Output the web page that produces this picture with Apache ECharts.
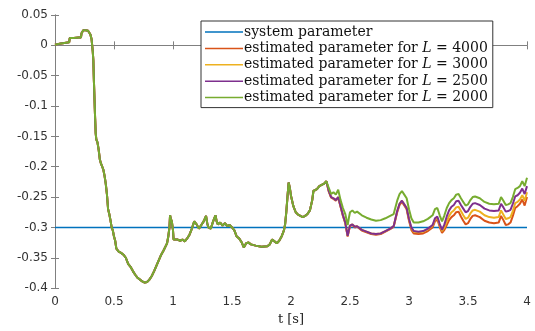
<!DOCTYPE html>
<html>
<head>
<meta charset="utf-8">
<script src="https://cdn.jsdelivr.net/npm/echarts@6/dist/echarts.min.js"></script>
<style>
  html, body { margin: 0; padding: 0; background: #fff; }
  #chart { width: 535px; height: 331px; }
</style>
</head>
<body>
<div id="chart"></div>
<script>
// time axis ticks
var xTicks = [0, 0.5, 1, 1.5, 2, 2.5, 3, 3.5, 4];
var yTicks = [0.05, 0, -0.05, -0.1, -0.15, -0.2, -0.25, -0.3, -0.35, -0.4];

// system parameter (constant)
var sysT = [0, 4];
var sysV = [-0.3, -0.3];

// shared part of all estimates (t = 0 .. 2.3)
var tEarly = [0, 0.02, 0.05, 0.08, 0.12, 0.125, 0.16, 0.2, 0.22, 0.225, 0.24, 0.26, 0.28, 0.29, 0.3,
  0.31, 0.32, 0.325, 0.33, 0.335, 0.34, 0.345, 0.35, 0.36, 0.37, 0.38, 0.39, 0.4, 0.41, 0.42,
  0.43, 0.44, 0.45, 0.46, 0.47, 0.48, 0.49, 0.5, 0.51, 0.52, 0.54, 0.56, 0.58, 0.6, 0.62,
  0.64, 0.66, 0.68, 0.7, 0.72, 0.74, 0.76, 0.78, 0.8, 0.82, 0.84, 0.86, 0.88, 0.9, 0.92,
  0.94, 0.95, 0.96, 0.97, 0.975, 0.98, 0.99, 0.995, 1.0, 1.005, 1.02, 1.04, 1.06, 1.08, 1.1,
  1.12, 1.14, 1.16, 1.18, 1.19, 1.2, 1.22, 1.24, 1.26, 1.28, 1.29, 1.3, 1.32, 1.34, 1.36,
  1.37, 1.38, 1.4, 1.42, 1.44, 1.46, 1.48, 1.5, 1.52, 1.54, 1.56, 1.58, 1.6, 1.62, 1.64,
  1.66, 1.7, 1.75, 1.8, 1.82, 1.84, 1.86, 1.88, 1.9, 1.92, 1.94, 1.95, 1.96, 1.97, 1.98,
  1.99, 2.0, 2.02, 2.04, 2.06, 2.08, 2.1, 2.12, 2.14, 2.16, 2.18, 2.19, 2.2, 2.22, 2.24,
  2.26, 2.28, 2.3];
var vEarly = [0.001, 0.002, 0.003, 0.004, 0.005, 0.012, 0.012, 0.013, 0.013, 0.02, 0.025, 0.025, 0.024, 0.022, 0.018,
  0.01, -0.01, -0.025, -0.06, -0.09, -0.12, -0.145, -0.155, -0.16, -0.172, -0.188, -0.195, -0.2, -0.205, -0.215,
  -0.228, -0.245, -0.27, -0.278, -0.288, -0.3, -0.305, -0.315, -0.322, -0.335, -0.34, -0.342, -0.345, -0.35, -0.36,
  -0.365, -0.372, -0.378, -0.383, -0.386, -0.389, -0.391, -0.39, -0.386, -0.38, -0.372, -0.363, -0.354, -0.345, -0.338,
  -0.33, -0.326, -0.315, -0.3, -0.28, -0.285, -0.29, -0.288, -0.305, -0.32, -0.318, -0.32, -0.322, -0.32, -0.323,
  -0.318, -0.312, -0.302, -0.29, -0.288, -0.295, -0.302, -0.296, -0.29, -0.281, -0.293, -0.3, -0.302, -0.29, -0.28,
  -0.29, -0.295, -0.292, -0.297, -0.293, -0.298, -0.296, -0.3, -0.305, -0.315, -0.318, -0.324, -0.333, -0.326, -0.325,
  -0.328, -0.33, -0.332, -0.331, -0.328, -0.32, -0.323, -0.326, -0.322, -0.315, -0.305, -0.295, -0.275, -0.25, -0.226,
  -0.235, -0.248, -0.265, -0.275, -0.279, -0.281, -0.283, -0.281, -0.278, -0.272, -0.255, -0.24, -0.238, -0.237, -0.232,
  -0.23, -0.228, -0.224];

// estimates after they split (t = 2.32 .. 4)
var tLate = [2.32, 2.34, 2.36, 2.38, 2.4, 2.42, 2.44, 2.46, 2.48, 2.49, 2.5, 2.52, 2.54, 2.56, 2.6,
  2.64, 2.68, 2.72, 2.76, 2.8, 2.84, 2.87, 2.9, 2.92, 2.94, 2.96, 2.98, 3.0, 3.02, 3.04,
  3.08, 3.12, 3.16, 3.2, 3.22, 3.24, 3.26, 3.28, 3.3, 3.32, 3.34, 3.36, 3.38, 3.4, 3.42,
  3.44, 3.46, 3.48, 3.5, 3.52, 3.54, 3.56, 3.6, 3.64, 3.68, 3.72, 3.76, 3.78, 3.8, 3.82,
  3.84, 3.86, 3.88, 3.9, 3.92, 3.94, 3.96, 3.98, 4.0];
var l2000 = [-0.235, -0.245, -0.242, -0.246, -0.238, -0.255, -0.268, -0.278, -0.296, -0.285, -0.275, -0.272, -0.276, -0.274, -0.28,
  -0.284, -0.287, -0.289, -0.288, -0.285, -0.281, -0.278, -0.256, -0.245, -0.24, -0.246, -0.252, -0.27, -0.285, -0.292,
  -0.292, -0.29, -0.286, -0.28, -0.27, -0.268, -0.28, -0.29, -0.28, -0.268, -0.26, -0.255, -0.252, -0.246, -0.245,
  -0.252, -0.258, -0.264, -0.262, -0.255, -0.25, -0.249, -0.252, -0.258, -0.261, -0.262, -0.261, -0.25, -0.256, -0.263,
  -0.262, -0.26, -0.25, -0.237, -0.235, -0.232, -0.224, -0.232, -0.218];
var l2500 = [-0.24, -0.25, -0.252, -0.255, -0.25, -0.265, -0.28, -0.292, -0.314, -0.305, -0.297, -0.295, -0.299, -0.298, -0.304,
  -0.307, -0.31, -0.311, -0.31, -0.306, -0.302, -0.298, -0.273, -0.261, -0.256, -0.262, -0.268, -0.286, -0.3, -0.306,
  -0.307, -0.306, -0.302, -0.296, -0.285, -0.282, -0.294, -0.304, -0.295, -0.282, -0.272, -0.266, -0.263, -0.257, -0.256,
  -0.263, -0.269, -0.275, -0.273, -0.266, -0.261, -0.26, -0.263, -0.269, -0.272, -0.273, -0.272, -0.261, -0.267, -0.274,
  -0.273, -0.271, -0.261, -0.249, -0.247, -0.243, -0.236, -0.245, -0.232];
var l3000 = [-0.24, -0.25, -0.252, -0.255, -0.25, -0.265, -0.28, -0.292, -0.314, -0.305, -0.297, -0.295, -0.299, -0.298, -0.304,
  -0.307, -0.31, -0.311, -0.31, -0.306, -0.302, -0.298, -0.273, -0.261, -0.256, -0.262, -0.268, -0.287, -0.301, -0.307,
  -0.308, -0.307, -0.303, -0.297, -0.287, -0.284, -0.296, -0.306, -0.3, -0.29, -0.281, -0.275, -0.272, -0.267, -0.266,
  -0.273, -0.28, -0.286, -0.284, -0.277, -0.272, -0.271, -0.274, -0.28, -0.283, -0.284, -0.283, -0.272, -0.279, -0.286,
  -0.285, -0.283, -0.273, -0.26, -0.258, -0.254, -0.247, -0.256, -0.242];
var l4000 = [-0.241, -0.251, -0.253, -0.256, -0.251, -0.266, -0.281, -0.293, -0.315, -0.306, -0.298, -0.296, -0.3, -0.299, -0.305,
  -0.308, -0.311, -0.312, -0.311, -0.307, -0.303, -0.299, -0.275, -0.263, -0.258, -0.264, -0.27, -0.289, -0.304, -0.31,
  -0.311, -0.31, -0.306, -0.3, -0.29, -0.287, -0.299, -0.309, -0.304, -0.296, -0.288, -0.283, -0.28, -0.275, -0.274,
  -0.282, -0.289, -0.295, -0.293, -0.286, -0.281, -0.28, -0.283, -0.289, -0.292, -0.293, -0.292, -0.281, -0.288, -0.296,
  -0.295, -0.292, -0.281, -0.268, -0.265, -0.261, -0.254, -0.264, -0.25];

function pairs(ts, vs) {
  var out = [];
  for (var i = 0; i < ts.length; i++) out.push([ts[i], vs[i]]);
  return out;
}
function est(late) {
  return pairs(tEarly.concat(tLate), vEarly.concat(late));
}

var serif = '"DejaVu Serif", "Liberation Serif", serif';
var sans = '"DejaVu Sans", "Liberation Sans", sans-serif';
var boxColor = '#808080';

var myChart = echarts.init(document.getElementById('chart'));
myChart.setOption({
  backgroundColor: '#ffffff',
  animation: false,
  grid: { left: 55, right: 8, top: 15, bottom: 35 },
  legend: {
    orient: 'vertical',
    left: 201,
    top: 21,
    padding: [4, 5, 3, 4],
    itemGap: 2.4,
    itemWidth: 38,
    itemHeight: 1.5,
    icon: 'rect',
    borderColor: '#333',
    borderWidth: 1,
    borderRadius: 0,
    backgroundColor: '#fff',
    textStyle: {
      fontFamily: serif,
      fontSize: 14,
      lineHeight: 14,
      color: '#111',
      padding: [0, 0, 0, -4],
      rich: {
        i: { fontFamily: serif, fontSize: 14, fontStyle: 'italic', color: '#111', lineHeight: 14 }
      }
    },
    formatter: function (name) {
      return name.replace(' L ', ' {i|L} ');
    },
    data: ['system parameter', 'estimated parameter for L = 4000', 'estimated parameter for L = 3000',
      'estimated parameter for L = 2500', 'estimated parameter for L = 2000']
  },
  xAxis: [{
    type: 'value',
    min: 0, max: 4, interval: 0.5,
    name: 't [s]',
    nameLocation: 'middle',
    nameGap: 24,
    nameTextStyle: { fontFamily: serif, fontSize: 13, color: '#222' },
    axisLine: { lineStyle: { color: boxColor, width: 1 } },
    axisTick: { inside: true, length: 4, lineStyle: { color: boxColor } },
    axisLabel: {
      fontFamily: sans, fontSize: 12, color: '#333', margin: 8,
      formatter: function (v) { return xTicks.indexOf(v) >= 0 ? String(v) : ''; }
    },
    splitLine: { show: false }
  }, {
    type: 'value', position: 'top',
    min: 0, max: 4, interval: 0.5,
    axisLine: { lineStyle: { color: boxColor, width: 1 } },
    axisTick: { inside: true, length: 4, lineStyle: { color: boxColor } },
    axisLabel: { show: false },
    splitLine: { show: false }
  }],
  yAxis: [{
    type: 'value',
    min: -0.4, max: 0.05, interval: 0.05,
    axisLine: { show: true, lineStyle: { color: boxColor, width: 1 } },
    axisTick: { show: true, inside: true, length: 4, lineStyle: { color: boxColor } },
    axisLabel: {
      fontFamily: sans, fontSize: 12, color: '#333', margin: 7,
      formatter: function (v) {
        var r = Math.round(v * 100) / 100;
        return yTicks.indexOf(r) >= 0 ? String(r) : '';
      }
    },
    splitLine: { show: false }
  }, {
    type: 'value', position: 'right',
    min: -0.4, max: 0.05, interval: 0.05,
    axisLine: { show: true, lineStyle: { color: boxColor, width: 1 } },
    axisTick: { show: true, inside: true, length: 4, lineStyle: { color: boxColor } },
    axisLabel: { show: false },
    splitLine: { show: false }
  }],
  series: [
    { name: 'system parameter', type: 'line', symbol: 'none', color: '#0072BD',
      lineStyle: { width: 1.5 }, data: pairs(sysT, sysV) },
    { name: 'estimated parameter for L = 4000', type: 'line', symbol: 'none', color: '#D95319',
      lineStyle: { width: 2 }, data: est(l4000) },
    { name: 'estimated parameter for L = 3000', type: 'line', symbol: 'none', color: '#EDB120',
      lineStyle: { width: 2 }, data: est(l3000) },
    { name: 'estimated parameter for L = 2500', type: 'line', symbol: 'none', color: '#7E2F8E',
      lineStyle: { width: 2 }, data: est(l2500) },
    { name: 'estimated parameter for L = 2000', type: 'line', symbol: 'none', color: '#77AC30',
      lineStyle: { width: 2 }, data: est(l2000) }
  ]
});
</script>
</body>
</html>
